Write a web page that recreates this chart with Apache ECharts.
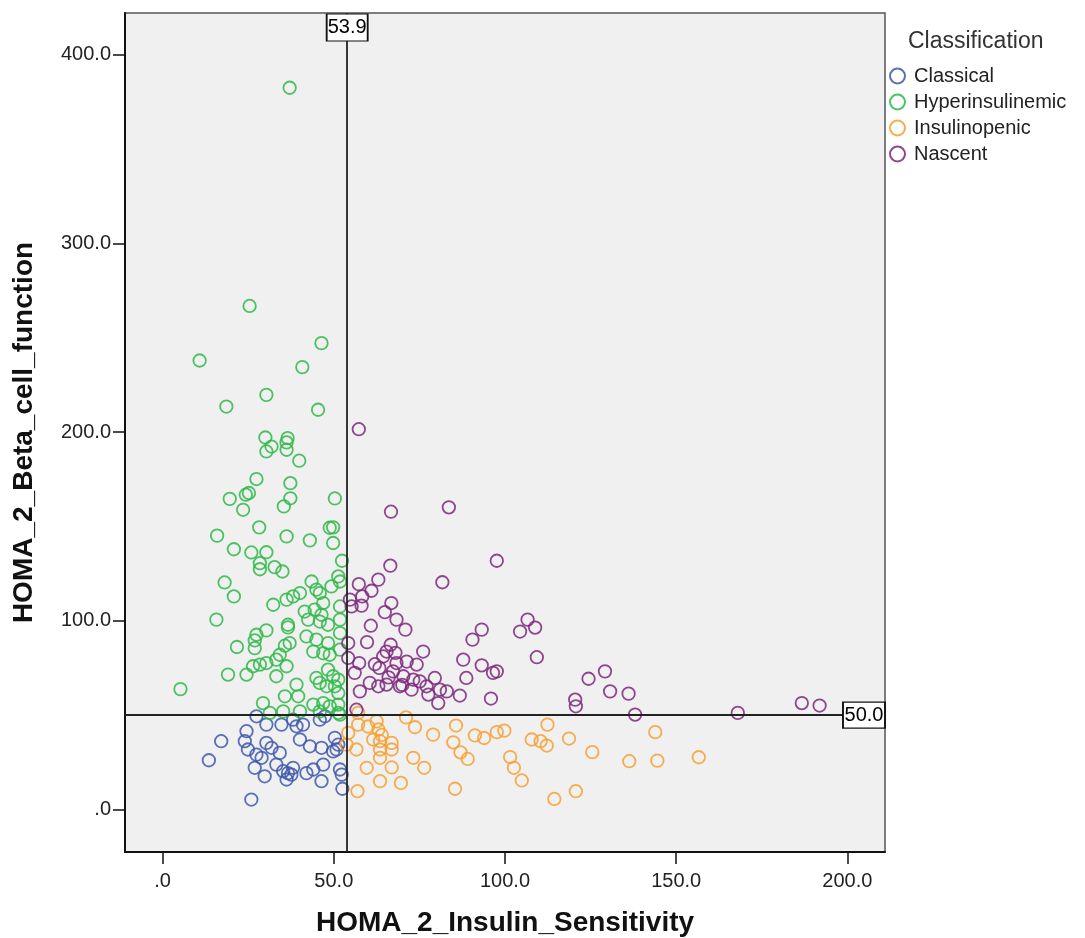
<!DOCTYPE html>
<html>
<head>
<meta charset="utf-8">
<title>HOMA2 classification scatter</title>
<script src="https://cdn.jsdelivr.net/npm/echarts@6/dist/echarts.min.js"></script>
<style>
  html, body { margin: 0; background: #fff; }
  #chart { width: 1085px; height: 938px; }
</style>
</head>
<body>
<div id="chart"></div>
<script>
// [insulin sensitivity, beta cell function]
const classical = [
  [27.4, 49.4], [30.3, 45.0], [34.7, 45.0], [38.1, 47.6], [39.1, 44.1], [41.0, 45.0], [45.9, 47.6], [47.4, 49.4],
  [24.5, 41.5], [17.1, 36.2], [24.0, 36.2], [24.9, 31.8], [30.3, 35.3], [31.8, 32.7], [34.2, 30.0], [27.4, 29.1],
  [28.9, 27.4], [40.1, 37.1], [43.0, 33.5], [46.4, 32.7], [50.3, 38.0], [50.8, 31.8], [49.8, 30.8], [13.5, 26.1],
  [26.9, 22.1], [33.2, 23.8], [35.2, 20.3], [36.6, 19.3], [37.6, 18.5], [36.2, 15.9], [29.8, 17.6], [42.0, 19.3],
  [44.0, 21.2], [46.9, 23.8], [46.4, 15.0], [51.8, 21.2], [52.3, 18.5], [52.5, 11.0], [25.9, 5.3], [38.1, 22.1],
  [51.3, 34.4]
]
const hyperinsulinemic = [
  [37.1, 382.4], [25.4, 266.8], [46.4, 247.1], [10.8, 237.9], [40.8, 234.4], [30.3, 219.7], [18.6, 213.5], [45.4, 211.8],
  [30.0, 197.1], [36.5, 196.8], [31.8, 192.3], [30.3, 189.7], [36.2, 194.5], [36.2, 190.6], [39.9, 184.8], [27.4, 175.1],
  [37.3, 172.9], [25.2, 167.7], [24.3, 166.8], [19.6, 164.6], [37.3, 164.9], [50.3, 164.8], [23.5, 158.8], [35.4, 160.6],
  [28.2, 149.5], [36.2, 144.7], [49.8, 149.5], [48.8, 149.3], [15.9, 145.1], [43.0, 142.6], [49.8, 141.2], [20.8, 137.9],
  [25.9, 136.2], [30.3, 136.3], [28.4, 130.5], [28.4, 127.3], [32.7, 128.4], [35.0, 126.1], [52.4, 131.8], [51.3, 123.5],
  [18.1, 120.3], [20.8, 112.9], [43.5, 120.8], [44.9, 116.5], [45.9, 114.7], [40.1, 114.7], [38.1, 112.9], [36.2, 111.2],
  [32.3, 108.5], [49.3, 118.2], [51.8, 120.8], [46.9, 109.4], [41.5, 104.9], [44.4, 105.9], [46.4, 103.2], [51.8, 107.6],
  [15.7, 100.6], [36.6, 97.9], [36.6, 96.5], [42.5, 100.6], [45.9, 99.6], [48.3, 97.9], [51.8, 100.6], [51.8, 93.5],
  [30.3, 94.9], [27.4, 92.6], [26.9, 89.6], [21.7, 86.1], [26.9, 85.5], [35.7, 86.8], [37.1, 88.2], [42.0, 91.7],
  [44.9, 90.0], [48.3, 88.2], [44.0, 83.7], [46.9, 82.8], [48.8, 82.0], [51.8, 84.7], [34.2, 82.0], [33.2, 79.4],
  [36.2, 75.9], [30.3, 77.6], [28.4, 76.8], [26.4, 75.9], [24.5, 71.5], [19.1, 71.5], [33.2, 70.6], [39.1, 66.2],
  [44.9, 69.7], [45.9, 67.1], [48.3, 74.1], [49.8, 70.6], [51.3, 68.8], [50.3, 65.3], [47.9, 65.3], [51.3, 61.7],
  [5.2, 63.8], [35.7, 60.0], [39.6, 60.0], [29.3, 56.4], [44.0, 55.6], [46.9, 56.4], [51.3, 55.6], [35.2, 52.0],
  [40.1, 52.0], [45.9, 52.0], [51.8, 50.3], [31.3, 51.2], [48.8, 54.7], [51.3, 51.2]
]
const insulinopenic = [
  [57.1, 51.2], [57.1, 45.0], [54.2, 40.6], [53.7, 34.4], [56.6, 31.8], [62.5, 46.7], [63.0, 42.4], [61.5, 37.1],
  [63.5, 36.2], [66.9, 35.3], [63.5, 31.8], [66.9, 31.8], [63.5, 27.4], [71.1, 48.8], [73.7, 43.6], [79.0, 39.7],
  [73.2, 27.4], [76.4, 22.1], [59.6, 22.1], [66.9, 22.3], [63.5, 15.0], [69.6, 14.1], [56.9, 9.7], [85.7, 44.5],
  [84.9, 35.6], [87.0, 30.3], [89.1, 26.8], [85.4, 11.0], [91.2, 39.3], [93.9, 37.9], [97.6, 41.0], [99.8, 41.8],
  [101.5, 27.8], [102.6, 22.1], [104.9, 15.4], [107.8, 37.1], [110.4, 36.2], [112.2, 33.9], [112.4, 45.0], [118.7, 37.6],
  [125.5, 30.4], [120.7, 9.7], [114.4, 5.6], [143.9, 41.0], [136.3, 25.6], [144.5, 25.9], [156.6, 27.7], [64.0, 39.5],
  [60.0, 44.0]
]
const nascent = [
  [57.3, 201.5], [66.7, 157.8], [83.6, 160.1], [66.5, 129.2], [97.6, 131.8], [81.7, 120.4], [57.3, 119.4], [63.0, 121.8],
  [61.0, 115.9], [58.3, 112.9], [54.7, 111.2], [55.2, 107.6], [58.1, 108.0], [66.8, 109.4], [64.9, 104.6], [68.3, 100.6],
  [70.9, 95.3], [60.8, 97.4], [59.7, 88.7], [54.2, 88.2], [66.6, 87.3], [93.2, 95.3], [90.5, 90.0], [106.6, 100.6],
  [108.8, 96.4], [104.4, 94.3], [109.3, 80.7], [65.4, 83.7], [76.1, 83.7], [54.2, 80.3], [57.4, 77.6], [64.4, 81.1],
  [68.3, 77.6], [71.3, 78.4], [74.2, 76.8], [63.3, 75.0], [56.1, 72.4], [67.3, 73.2], [70.3, 70.6], [73.2, 68.8],
  [75.1, 67.9], [79.5, 69.7], [87.8, 79.4], [93.2, 76.4], [97.6, 73.2], [96.5, 72.4], [88.7, 69.7], [57.6, 62.6],
  [60.5, 67.1], [63.0, 65.3], [65.4, 66.2], [69.3, 65.3], [72.7, 63.5], [77.1, 65.3], [77.6, 60.9], [81.0, 63.5],
  [83.0, 62.6], [80.5, 56.4], [86.8, 60.4], [95.9, 58.8], [124.4, 69.3], [129.2, 73.2], [130.7, 62.6], [120.5, 58.2],
  [120.7, 54.7], [56.6, 52.9], [136.1, 61.4], [138.0, 50.3], [168.0, 51.2], [186.7, 56.4], [191.9, 55.1],
  [62.0, 77.0], [68.0, 83.0], [70.0, 66.0], [66.0, 70.0]
]

const groupNames = ['Classical', 'Hyperinsulinemic', 'Insulinopenic', 'Nascent']
const groupColors = ['#3e58ac', '#2eb848', '#f7a030', '#7c287d']
const xTicks = [0, 50, 100, 150, 200]
const yTicks = [0, 100, 200, 300, 400]
const xRange = [-11, 211]
const yRange = [-22.5, 422]
const refX = 53.9
const refY = 50

const font = 'Arial, "Liberation Sans", sans-serif'
const fmt = v => (v === 0 ? '.0' : v.toFixed(1))

const chart = echarts.init(document.getElementById('chart'))

const series = [classical, hyperinsulinemic, insulinopenic, nascent].map((d, i) => ({
  name: groupNames[i],
  type: 'scatter',
  data: d,
  symbol: 'circle',
  symbolSize: 12.5,
  itemStyle: {
    color: 'rgba(0,0,0,0)',
    borderColor: groupColors[i],
    borderWidth: 1.8,
    opacity: 0.85
  },
  emphasis: { disabled: true }
}))

// reference lines and their value boxes ride on the last series
series[3].markLine = {
  silent: true,
  symbol: 'none',
  animation: false,
  label: { show: false },
  lineStyle: { color: '#222', width: 1.8, type: 'solid', opacity: 1 },
  data: [{ xAxis: refX }, { yAxis: refY }]
}
series[3].markPoint = {
  silent: true,
  animation: false,
  itemStyle: { color: '#fff', borderColor: '#111', borderWidth: 1.5, opacity: 1 },
  label: {
    show: true,
    position: 'inside',
    color: '#000',
    fontSize: 20,
    fontFamily: font,
    formatter: p => p.value.toFixed(1)
  },
  data: [
    { coord: [refX, yRange[1]], value: refX, symbol: 'rect', symbolSize: [41, 27], symbolOffset: [0, 14.5] },
    { coord: [xRange[1], refY], value: refY, symbol: 'rect', symbolSize: [42, 26], symbolOffset: [-21, 0] }
  ]
}

const option = {
  animation: false,
  title: {
    text: 'Classification',
    left: 903,
    top: 25,
    textStyle: { fontFamily: font, fontSize: 23, fontWeight: 'normal', color: '#333' }
  },
  legend: {
    orient: 'vertical',
    left: 889,
    top: 66,
    itemWidth: 15,
    itemHeight: 15,
    itemGap: 6,
    padding: 0,
    icon: 'circle',
    data: groupNames,
    textStyle: { fontFamily: font, fontSize: 20, color: '#222', padding: [0, 0, 0, 4] },
    itemStyle: { color: 'rgba(0,0,0,0)', borderWidth: 2 }
  },
  grid: {
    left: 125,
    right: 200,
    top: 13,
    bottom: 86,
    outerBoundsMode: 'none',
    containLabel: false,
    show: true,
    backgroundColor: '#f0f0f0',
    borderColor: '#555',
    borderWidth: 1.5
  },
  xAxis: {
    type: 'value',
    min: xRange[0],
    max: xRange[1],
    name: 'HOMA_2_Insulin_Sensitivity',
    nameLocation: 'middle',
    nameGap: 57,
    nameTextStyle: { fontFamily: font, fontSize: 28, fontWeight: 'bold', color: '#111' },
    axisLine: { show: true, onZero: false, lineStyle: { color: '#111', width: 2 } },
    axisTick: { show: true, length: 12, customValues: xTicks, lineStyle: { color: '#111', width: 1.5 } },
    axisLabel: { customValues: xTicks, formatter: fmt, margin: 19, fontFamily: font, fontSize: 20, color: '#222' },
    splitLine: { show: false }
  },
  yAxis: {
    type: 'value',
    min: yRange[0],
    max: yRange[1],
    name: 'HOMA_2_Beta_cell_function',
    nameLocation: 'middle',
    nameGap: 87,
    nameTextStyle: { fontFamily: font, fontSize: 28, fontWeight: 'bold', color: '#111' },
    axisLine: { show: true, onZero: false, lineStyle: { color: '#111', width: 2 } },
    axisTick: { show: true, length: 12, customValues: yTicks, lineStyle: { color: '#111', width: 1.5 } },
    axisLabel: { customValues: yTicks, formatter: fmt, margin: 14, fontFamily: font, fontSize: 20, color: '#222' },
    splitLine: { show: false }
  },
  series: series
}

chart.setOption(option)
</script>
</body>
</html>
